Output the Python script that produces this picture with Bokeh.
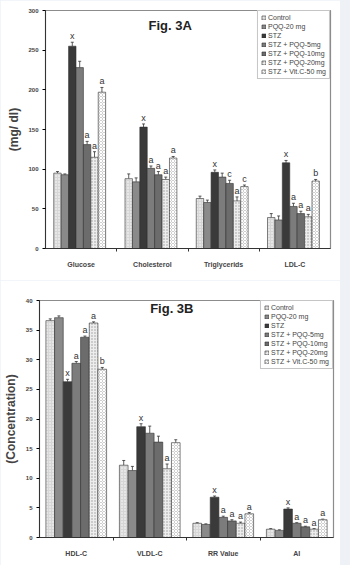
import numpy as np
from bokeh.plotting import figure
from bokeh.models import ColumnDataSource, FixedTicker, Whisker, TeeHead, Legend, LegendItem, Label
from bokeh.layouts import column
from bokeh.embed import file_html
from bokeh.resources import INLINE
from bokeh.core.properties import value

# ---------------- data ----------------
series = ["Control", "PQQ-20 mg", "STZ", "STZ + PQQ-5mg", "STZ + PQQ-10mg",
          "STZ + PQQ-20mg", "STZ + Vit.C-50 mg"]

cats_a = ["Glucose", "Cholesterol", "Triglycerids", "LDL-C"]
glucose = [95, 93, 255, 228, 131, 115, 197]
glucose_err = [2, 1, 5, 8, 4, 7, 6]
glucose_sig = ["", "", "x", "", "a", "a", "a"]
cholesterol = [88, 84, 153, 101, 93, 87, 114]
cholesterol_err = [6, 5, 4, 3, 4, 3, 2]
cholesterol_sig = ["", "", "x", "a", "a", "a", "a"]
triglycerids = [63, 58, 96, 90, 82, 60, 78]
triglycerids_err = [3, 3, 3, 5, 4, 5, 2]
triglycerids_sig = ["", "", "x", "", "c", "a", "c"]
ldl = [39, 36, 108, 53, 44, 40, 85]
ldl_err = [5, 5, 3, 4, 3, 3, 2]
ldl_sig = ["", "", "x", "a", "a", "a", "b"]

cats_b = ["HDL-C", "VLDL-C", "RR Value", "AI"]
hdl = [36.6, 37.1, 26.3, 29.4, 33.8, 36.2, 28.4]
hdl_err = [0.3, 0.3, 0.4, 0.3, 0.2, 0.2, 0.3]
hdl_sig = ["", "", "x", "a", "a", "a", "b"]
vldl = [12.2, 11.3, 18.7, 17.6, 16.1, 11.6, 16.0]
vldl_err = [0.8, 0.7, 0.5, 1.2, 1.0, 0.8, 0.5]
vldl_sig = ["", "", "x", "", "", "a", ""]
rr = [2.4, 2.2, 6.8, 3.4, 2.8, 2.4, 4.0]
rr_err = [0.1, 0.1, 0.2, 0.2, 0.2, 0.2, 0.2]
rr_sig = ["", "", "x", "a", "a", "a", "a"]
ai = [1.4, 1.2, 4.8, 2.4, 1.8, 1.4, 3.0]
ai_err = [0.1, 0.1, 0.2, 0.1, 0.1, 0.1, 0.1]
ai_sig = ["", "", "x", "a", "a", "a", "a"]

ticks_a = [0, 50, 100, 150, 200, 250, 300]
ticks_b = [0, 5, 10, 15, 20, 25, 30, 35, 40]

# ---------------- styles ----------------
fills = ["#d6d6d6", "#8a8a8a", "#3a3a3a", "#7c7c7c", "#6c6c6c", "#ededed", "#cfcfcf"]
hatches = ["dot", None, None, None, None, "dot", "diagonal_cross"]
hatch_cols = ["#ffffff", None, None, None, None, "#9a9a9a", "#ffffff"]
FONT = "Liberation Sans"


def make_chart(cats, vals, errs, sigs, ticks, ymax, title, ytitle, width, height,
               borders, bar_w, group_off, title_xy, ylab_size, ylab_standoff, tick_standoff):
    p = figure(width=width, height=height, output_backend="svg", toolbar_location=None,
               x_range=(0, len(cats)), y_range=(0, ymax),
               min_border_left=borders[0], min_border_right=borders[1],
               min_border_top=borders[2], min_border_bottom=borders[3])
    p.border_fill_color = "white"
    p.background_fill_color = "white"
    p.outline_line_color = "#8c8c8c"
    p.outline_line_width = 1.2
    p.xgrid.visible = False
    p.ygrid.visible = False

    n = len(series)
    items = []
    for s in range(n):
        xs = [i + 0.5 + (s - (n - 1) / 2) * bar_w + group_off for i in range(len(cats))]
        tops = [vals[i][s] for i in range(len(cats))]
        ups = [vals[i][s] + errs[i][s] for i in range(len(cats))]
        labs = [sigs[i][s] for i in range(len(cats))]
        src = ColumnDataSource(dict(x=xs, top=tops, up=ups, lab=labs))
        kw = {}
        if hatches[s]:
            kw = dict(hatch_pattern=hatches[s], hatch_color=hatch_cols[s],
                      hatch_scale=3, hatch_weight=1)
        r = p.vbar(x="x", top="top", width=bar_w, bottom=0, source=src,
                   fill_color=fills[s], line_color="#303030", line_width=0.6, **kw)
        items.append(LegendItem(label=series[s], renderers=[r]))
        w = Whisker(base="x", upper="up", lower="top", source=src, dimension="height",
                    line_color="#333333", line_width=0.8,
                    upper_head=TeeHead(size=3, line_color="#333333", line_width=0.8),
                    lower_head=None)
        p.add_layout(w)
        t = p.text(x="x", y="up", text="lab", source=src, text_align="center",
                   text_baseline="bottom", y_offset=-1,
                   text_font_size=value("9px"), text_font=value(FONT),
                   text_color=value("#333333"))
        t.glyph.text_color = "#333333"

    legend = Legend(items=items, location="top_right")
    legend.label_text_font_size = "7px"
    legend.label_text_font = FONT
    legend.label_height = 7
    legend.glyph_height = 5
    legend.glyph_width = 5
    legend.spacing = 2
    legend.padding = 3
    legend.margin = 0
    legend.label_standoff = 2
    legend.border_line_color = "#8c8c8c"
    legend.border_line_width = 1.2
    legend.background_fill_alpha = 1
    p.add_layout(legend)

    p.add_layout(Label(x=title_xy[0], y=title_xy[1], text=title, text_align="center",
                       text_baseline="middle", text_font_size="13px",
                       text_font_style="bold", text_font=FONT, text_color="#222222"))

    # y axis
    p.yaxis.ticker = FixedTicker(ticks=ticks)
    p.yaxis.minor_tick_line_color = None
    p.yaxis.major_tick_in = 0
    p.yaxis.major_tick_out = 3
    p.yaxis.major_label_text_font_size = "6px"
    p.yaxis.major_label_text_font_style = "bold"
    p.yaxis.major_label_text_font = FONT
    p.yaxis.major_label_standoff = tick_standoff
    p.yaxis.axis_label = ytitle
    p.yaxis.axis_label_text_font_size = ylab_size
    p.yaxis.axis_label_text_font_style = "bold"
    p.yaxis.axis_label_text_font = FONT
    p.yaxis.axis_label_standoff = ylab_standoff
    p.yaxis.axis_line_color = "#333333"

    # x axis
    centers = [i + 0.5 for i in range(len(cats))]
    p.xaxis.ticker = FixedTicker(ticks=centers, minor_ticks=list(range(1, len(cats))))
    p.xaxis.major_label_overrides = {c: cats[i] for i, c in enumerate(centers)}
    p.xaxis.major_tick_line_color = None
    p.xaxis.minor_tick_in = 0
    p.xaxis.minor_tick_out = 3
    p.xaxis.minor_tick_line_color = "#333333"
    p.xaxis.major_label_text_font_size = "7px"
    p.xaxis.major_label_text_font_style = "bold"
    p.xaxis.major_label_text_font = FONT
    p.xaxis.major_label_standoff = 6
    p.xaxis.axis_line_color = "#333333"
    return p


vals_a = [glucose, cholesterol, triglycerids, ldl]
errs_a = [glucose_err, cholesterol_err, triglycerids_err, ldl_err]
sigs_a = [glucose_sig, cholesterol_sig, triglycerids_sig, ldl_sig]
p1 = make_chart(cats_a, vals_a, errs_a, sigs_a, ticks_a, 300, "Fig. 3A", "(mg/ dl)",
                340, 280, (45, 10, 10, 32), 0.104, -0.02, (1.75, 281), "12px", 4, 4)

vals_b = [hdl, vldl, rr, ai]
errs_b = [hdl_err, vldl_err, rr_err, ai_err]
sigs_b = [hdl_sig, vldl_sig, rr_sig, ai_sig]
p2 = make_chart(cats_b, vals_b, errs_b, sigs_b, ticks_b, 40, "Fig. 3B", "(Concentration)",
                340, 285, (37, 7, 20, 28), 0.118, 0.0, (1.8, 38.7), "12px", 5, 4)

top_box = column(p1, width=340, height=280)
bot_box = column(p2, width=340, height=285)
layout = column(top_box, bot_box, width=350, height=565, spacing=0,
                styles={"background-color": "#eef2f7"})

open("out.html", "w").write(file_html(layout, INLINE))
